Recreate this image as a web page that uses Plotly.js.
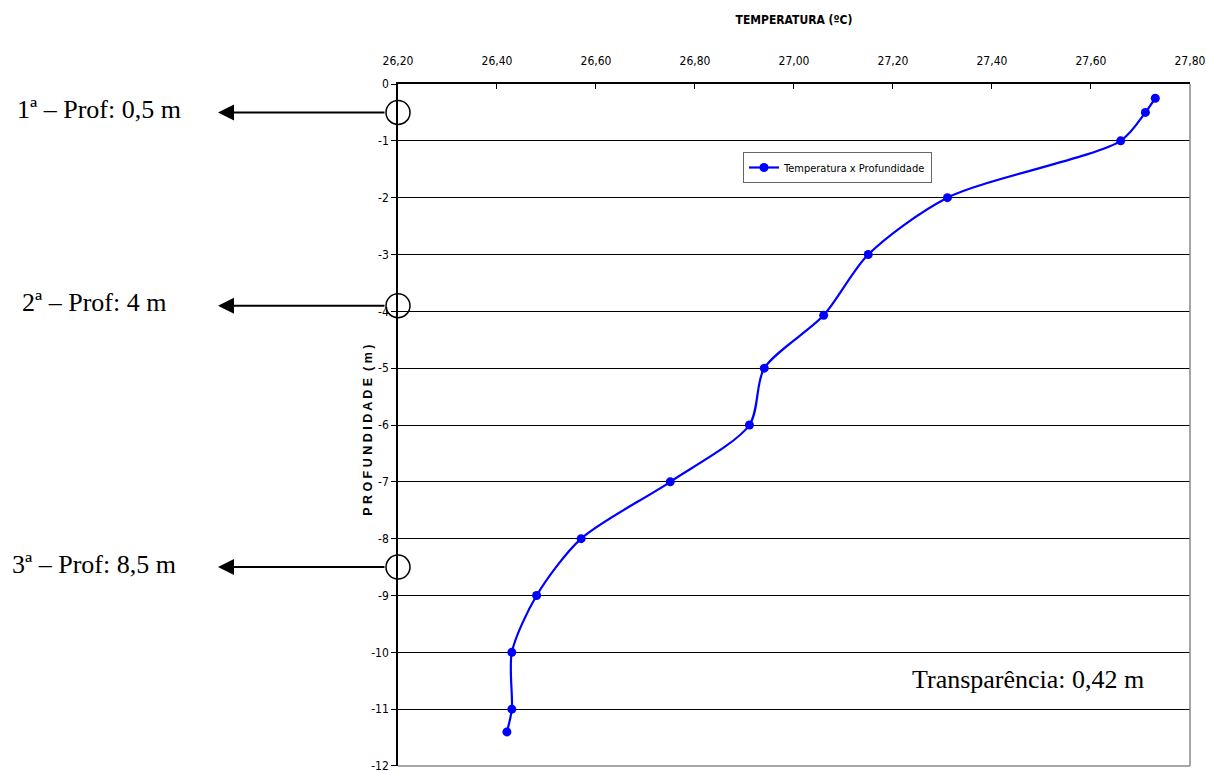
<!DOCTYPE html>
<html><head><meta charset="utf-8">
<script src="https://cdn.plot.ly/plotly-3.0.1.min.js"></script>
<style>body{margin:0;background:#fff}#chart{width:1206px;height:771px}</style>
</head><body><div id="chart"></div>
<script>
const temperatura = [27.73, 27.71, 27.66, 27.31, 27.15, 27.06, 26.94, 26.91, 26.75, 26.57, 26.48, 26.43, 26.43, 26.42];
const profundidade = [-0.25, -0.5, -1, -2, -3, -4.07, -5, -6, -7, -8, -9, -10, -11, -11.4];
const seriesName = 'Temperatura x Profundidade';
const xTickVals = [26.2, 26.4, 26.6, 26.8, 27.0, 27.2, 27.4, 27.6, 27.8];
const xTickText = ['26,20', '26,40', '26,60', '26,80', '27,00', '27,20', '27,40', '27,60', '27,80'];
const yTickVals = [0, -1, -2, -3, -4, -5, -6, -7, -8, -9, -10, -11, -12];
const yTickText = ['0', '-1', '-2', '-3', '-4', '-5', '-6', '-7', '-8', '-9', '-10', '-11', '-12'];
const coletas = ['1ª – Prof: 0,5 m', '2ª – Prof: 4 m', '3ª – Prof: 8,5 m'];
const coletaProf = [-0.5, -3.9, -8.5];
const coletaTextX = [15, 20, 10];
const transparencia = 'Transparência: 0,42 m';

const narrow = '"DejaVu Sans Condensed", "Liberation Sans Narrow", "Arial Narrow", sans-serif';
const serif = '"Liberation Serif", "Times New Roman", serif';

const L = 398, R = 1190, T = 84, B = 766, W = 1206, H = 771;
const pw = R - L, ph = B - T;
const px = v => (v - L) / pw;
const py = d => (d + 12) / 12;

const shapes = [
  {type:'line', xref:'paper', yref:'paper', x0:1, x1:1, y0:0, y1:1, line:{color:'#888', width:1.5}},
  {type:'line', xref:'paper', yref:'paper', x0:0, x1:1, y0:0, y1:0, line:{color:'#888', width:1.5}}
];
const annotations = [];
coletas.forEach((t, i) => {
  shapes.push({type:'circle', xref:'paper', yref:'paper', xsizemode:'pixel', ysizemode:'pixel',
    xanchor:0, yanchor:py(coletaProf[i]), x0:-12, x1:12, y0:-12, y1:12,
    line:{color:'#000', width:1.5}, fillcolor:'rgba(0,0,0,0)'});
  annotations.push({xref:'paper', yref:'y', x:px(218), y:coletaProf[i], ax:168, ay:0,
    text:'', showarrow:true, arrowhead:2, arrowsize:1.6, arrowwidth:2, arrowcolor:'#000'});
  annotations.push({xref:'paper', yref:'y', x:px(coletaTextX[i]), y:coletaProf[i], xanchor:'left', yanchor:'middle',
    text:t, showarrow:false, font:{family:serif, size:26, color:'#000'}, yshift:3});
});
annotations.push({xref:'paper', yref:'y', x:px(1028), y:-10.47, xanchor:'center', yanchor:'middle',
  text:transparencia, showarrow:false, font:{family:serif, size:26, color:'#000'}});
annotations.push({xref:'paper', yref:'paper', x:px(368), y:py(-6.1), xanchor:'center', yanchor:'middle', textangle:-90,
  text:'<b>P R O F U N D I D A D E  ( m )</b>', showarrow:false, font:{family:'"Liberation Sans", Arial, sans-serif', size:12.5, color:'#000'}});

const data = [{
  x: temperatura, y: profundidade, name: seriesName, type:'scatter', mode:'lines+markers',
  line:{color:'#0000FF', width:2.2, shape:'spline', smoothing:0.8},
  marker:{color:'#0000FF', size:9}
}];

const layout = {
  width:W, height:H, paper_bgcolor:'#fff', plot_bgcolor:'#fff',
  margin:{l:L, r:W-R, t:T, b:H-B},
  title:{text:'<b>TEMPERATURA (ºC)</b>', x:px(794), xref:'paper', xanchor:'center', y:1-20/H, yanchor:'middle',
    font:{family:narrow, size:12, color:'#000'}},
  xaxis:{side:'top', range:[26.2, 27.8001], tickvals:xTickVals, ticktext:xTickText, showgrid:false, zeroline:false,
    showline:true, linecolor:'#000', linewidth:1.5, ticks:'inside', ticklen:5, tickcolor:'#000',
    ticklabelstandoff:12, ticklabeloverflow:'allow', tickfont:{family:narrow, size:12, color:'#000'}},
  yaxis:{range:[-12.0001, 0], tickvals:yTickVals, ticktext:yTickText, showgrid:true, gridcolor:'#000', gridwidth:1, zeroline:false,
    showline:true, linecolor:'#000', linewidth:1.5, ticks:'outside', ticklen:5, tickcolor:'#000',
    ticklabeloverflow:'allow', tickfont:{family:narrow, size:12, color:'#000'}},
  showlegend:true,
  legend:{x:px(743), y:1-(152-T)/ph, xanchor:'left', yanchor:'top', bordercolor:'#666', borderwidth:1, bgcolor:'#fff',
    font:{family:narrow, size:11, color:'#000'}},
  shapes:shapes, annotations:annotations
};
Plotly.newPlot('chart', data, layout, {displayModeBar:false});
</script></body></html>
